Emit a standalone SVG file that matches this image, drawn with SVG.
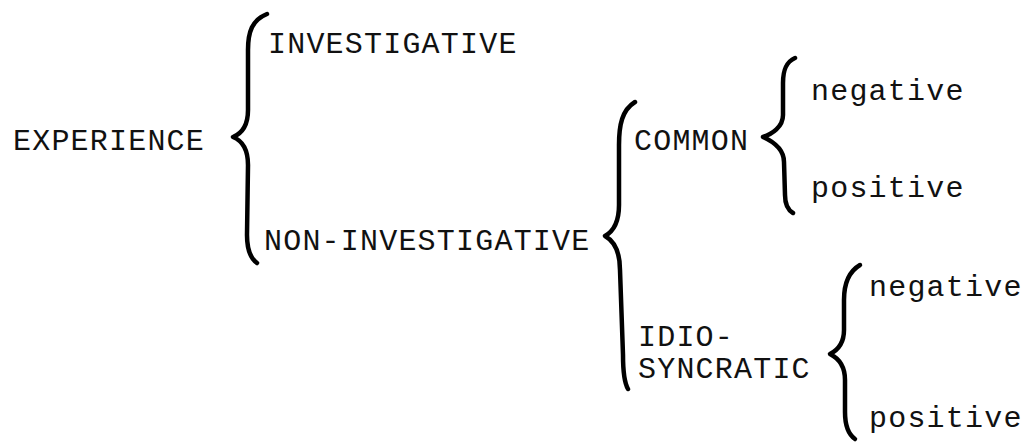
<svg xmlns="http://www.w3.org/2000/svg" width="1031" height="443" viewBox="0 0 1031 443">
<style>
.t{font-family:"Liberation Mono","DejaVu Sans Mono",monospace;font-size:30px;letter-spacing:1.2px;fill:#111}
.b{fill:none;stroke:#000;stroke-width:4.5;stroke-linecap:round;stroke-linejoin:round}
</style>
<rect width="1031" height="443" fill="#fff"/>
<g id="connectors">
<path class="b" d="M267,14 C252,20 248,32 248,50 L248,110 C248,124 243,133 233,137 C243,141 248,150 248,165 L247,235 C247,250 250,258 257,263"/>
<path class="b" d="M635,102 C622,110 619,125 619,145 L619,205 C619,222 614,231 605,236 C614,241 620,250 620,270 L623,355 C623,372 624,382 628,389"/>
<path class="b" d="M795,58 C786,62 783,70 783,83 L783,115 C783,127 772,134 763,137 C772,141 784,148 784,162 L785,195 C785,204 788,210 793,213"/>
<path class="b" d="M860,265 C848,272 844,284 844,300 L844,330 C844,343 838,350 830,354 C838,358 845,366 845,380 L845,412 C845,426 848,434 855,439"/>
</g>
<g id="experience"><text class="t" x="13" y="150">EXPERIENCE</text></g>
<g id="investigative"><text class="t" x="268" y="53">INVESTIGATIVE</text></g>
<g id="non-investigative"><text class="t" x="264" y="250">NON-INVESTIGATIVE</text></g>
<g id="common"><text class="t" x="634" y="150">COMMON</text></g>
<g id="common-negative"><text class="t" x="811" y="100">negative</text></g>
<g id="common-positive"><text class="t" x="811" y="197">positive</text></g>
<g id="idiosyncratic"><text class="t" x="638" y="346">IDIO-</text><text class="t" x="638" y="378">SYNCRATIC</text></g>
<g id="idio-negative"><text class="t" x="869" y="296">negative</text></g>
<g id="idio-positive"><text class="t" x="869" y="427">positive</text></g>
</svg>
